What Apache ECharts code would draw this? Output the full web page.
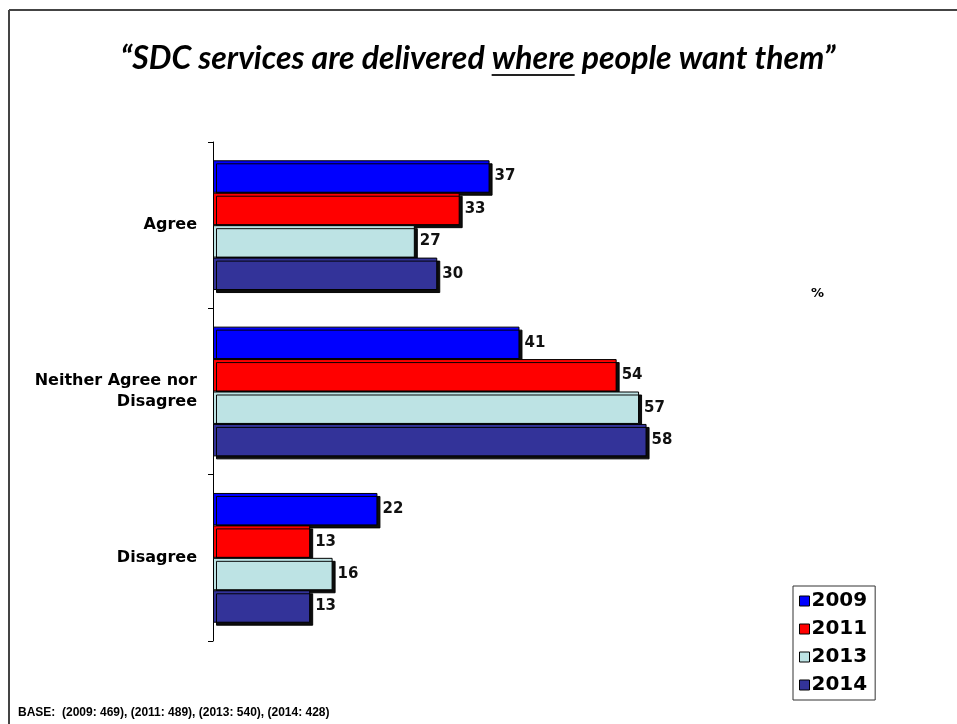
<!DOCTYPE html>
<html>
<head>
<meta charset="utf-8">
<script src="https://cdn.jsdelivr.net/npm/echarts@6/dist/echarts.min.js"></script>
<style>
  html, body { margin: 0; padding: 0; background: #fff; }
  #chart { width: 957px; height: 724px; }
</style>
</head>
<body>
<div id="chart"></div>
<script>
// Survey responses, percent of respondents per year
const categories = ['Agree', 'Neither Agree nor\nDisagree', 'Disagree'];
const years = ['2009', '2011', '2013', '2014'];
const values2009 = [37, 41, 22];
const values2011 = [33, 54, 13];
const values2013 = [27, 57, 16];
const values2014 = [30, 58, 13];
const seriesValues = [values2009, values2011, values2013, values2014];
const colors = ['#0000FF', '#FF0000', '#BDE3E4', '#333399'];
const titleBefore = '\u201CSDC services are delivered ';
const titleUnderlined = 'where';
const titleAfter = ' people want them\u201D';
const baseNote = 'BASE:  (2009: 469), (2011: 489), (2013: 540), (2014: 428)';

const chart = echarts.init(document.getElementById('chart'));

// Title metrics, used to place the underline beneath the emphasised word
const titleFont = 'italic bold 32px Lato';
const titleCenterX = 478;
const titleY = 62;
const ctx = document.createElement('canvas').getContext('2d');
ctx.font = titleFont;
const fullW = ctx.measureText(titleBefore + titleUnderlined + titleAfter).width;
const beforeW = ctx.measureText(titleBefore).width;
const wordW = ctx.measureText(titleUnderlined).width;
const titleLeft = titleCenterX - fullW / 2;

const valueLabel = {
  show: true,
  position: 'right',
  distance: 5,
  color: '#111',
  fontFamily: 'DejaVu Sans',
  fontWeight: 'bold',
  fontSize: 15
};

const series = years.map((y, i) => ({
  name: y,
  type: 'bar',
  data: seriesValues[i],
  barGap: '0%',
  barCategoryGap: '22%',
  itemStyle: {
    color: colors[i],
    borderColor: '#000',
    borderWidth: 1,
    shadowColor: 'rgba(0,0,0,0.95)',
    shadowBlur: 0,
    shadowOffsetX: 3,
    shadowOffsetY: 3
  },
  label: valueLabel
}));

chart.setOption({
  animation: false,
  backgroundColor: '#fff',
  grid: { left: 213, top: 142, right: 146, bottom: 83, containLabel: false },
  xAxis: {
    type: 'value',
    min: 0,
    max: 80,
    show: false
  },
  yAxis: {
    type: 'category',
    data: categories,
    inverse: true,
    axisLine: { show: true, lineStyle: { color: '#000', width: 1 } },
    axisTick: { show: true, length: 5, lineStyle: { color: '#000' } },
    axisLabel: {
      margin: 16,
      color: '#000',
      fontFamily: 'DejaVu Sans',
      fontWeight: 'bold',
      fontSize: 16,
      lineHeight: 21,
      align: 'right'
    }
  },
  legend: {
    orient: 'vertical',
    left: 793,
    top: 586,
    padding: [5, 8, 5, 6],
    itemGap: 8,
    itemWidth: 10,
    itemHeight: 10,
    borderColor: '#333',
    borderWidth: 1,
    icon: 'rect',
    selectedMode: false,
    itemStyle: { borderColor: '#000', borderWidth: 1, shadowColor: 'transparent', shadowOffsetX: 0, shadowOffsetY: 0 },
    textStyle: {
      color: '#000',
      fontFamily: 'DejaVu Sans',
      fontWeight: 'bold',
      fontSize: 20,
      padding: [0, 0, 0, -3]
    },
    data: years
  },
  graphic: [
    // page frame
    { type: 'line', shape: { x1: 9, y1: 10, x2: 957, y2: 10 }, style: { stroke: '#444', lineWidth: 2 } },
    { type: 'line', shape: { x1: 9, y1: 10, x2: 9, y2: 724 }, style: { stroke: '#444', lineWidth: 2 } },
    // title
    {
      type: 'text', left: titleLeft, top: titleY - 19,
      style: { text: titleBefore + titleUnderlined + titleAfter, font: titleFont, fill: '#000' }
    },
    {
      type: 'line',
      shape: { x1: titleLeft + beforeW, y1: titleY + 13, x2: titleLeft + beforeW + wordW, y2: titleY + 13 },
      style: { stroke: '#222', lineWidth: 2 }
    },
    // unit marker
    {
      type: 'text', left: 811, top: 287,
      style: { text: '%', font: 'bold 13px DejaVu Sans', fill: '#000' }
    },
    // sample sizes
    {
      type: 'text', left: 18, top: 707,
      style: { text: baseNote, font: 'bold 12px Liberation Sans', fill: '#000' }
    }
  ],
  series: series
});
</script>
</body>
</html>
